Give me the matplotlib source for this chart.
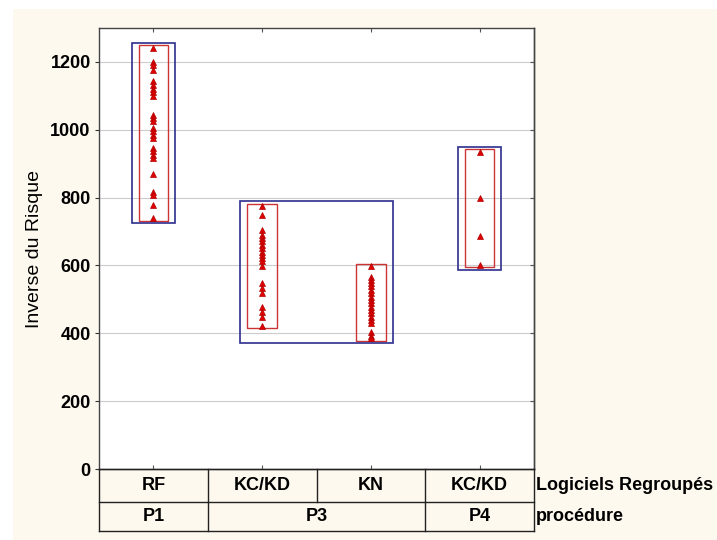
import matplotlib
matplotlib.use("Agg")
import matplotlib.pyplot as plt
from matplotlib.patches import Rectangle

plt.rcParams['font.family'] = ['Liberation Sans', 'DejaVu Sans']

# données
logiciels = ["RF", "KC/KD", "KN", "KC/KD"]
procedures = ["P1", "P3", "P3", "P4"]
rf_p1 = [1241, 1200, 1192, 1177, 1143, 1133, 1120, 1110, 1100, 1044, 1036, 1025,
         1005, 995, 985, 975, 946, 936, 926, 917, 870, 818, 808, 779, 740]
kckd_p3 = [774, 749, 705, 690, 680, 671, 661, 651, 641, 631, 622, 612, 599,
           548, 533, 518, 479, 464, 449, 423]
kn_p3 = [597, 567, 558, 548, 538, 528, 518, 508, 499, 489, 479, 469, 459, 449,
         440, 430, 405, 393, 385]
kckd_p4 = [935, 800, 688, 602]
valeurs = [rf_p1, kckd_p3, kn_p3, kckd_p4]
yticks = [0, 200, 400, 600, 800, 1000, 1200]

W, H = 717, 540
fig = plt.figure(figsize=(W / 100, H / 100), dpi=100)
fig.patch.set_facecolor("white")
fig.patches.append(Rectangle((13 / W, 0), 1, (H - 9) / H, transform=fig.transFigure,
                             facecolor="#fdf9ee", edgecolor="none", zorder=-10))

ax = fig.add_axes([99 / W, (H - 469) / H, 435 / W, 441 / H])
ax.set_facecolor("white")
ax.set_xlim(-0.5, len(logiciels) - 0.5)
ax.set_ylim(0, 1300)
ax.set_yticks(yticks)
ax.set_xticks(range(len(logiciels)))
ax.set_xticklabels([])
for y in yticks[1:]:
    ax.axhline(y, color="#cccccc", lw=0.8, zorder=0)

ax.tick_params(axis="y", direction="out", length=3, labelsize=13, colors="#333333",
               labelcolor="black", right=False, pad=3)
ax.tick_params(axis="x", direction="in", length=3, top=True, bottom=True, colors="#555555")
for lab in ax.get_yticklabels():
    lab.set_fontweight("bold")
ax2 = ax.secondary_yaxis("right")
ax2.set_yticks(yticks)
ax2.tick_params(direction="in", length=3, labelright=False, colors="#555555")
for s in list(ax.spines.values()) + list(ax2.spines.values()):
    s.set_color("#444444")
    s.set_linewidth(1.0)

ax.set_ylabel("Inverse du Risque", fontsize=14)
ax.yaxis.set_label_coords(-0.128, 0.5)

# points et boîtes par logiciel
for i, vals in enumerate(valeurs):
    ax.plot([i] * len(vals), vals, linestyle="none", marker="^", markersize=5,
            markerfacecolor="#e00000", markeredgecolor="#b00000", markeredgewidth=0.5, zorder=4)
    lo, hi = min(vals) - 8, max(vals) + 8
    ax.add_patch(Rectangle((i - 0.135, lo), 0.27, hi - lo, fill=False,
                           edgecolor="#cc3333", lw=1.0, zorder=3))

# boîtes par procédure
groupes = []
for i, p in enumerate(procedures):
    if groupes and groupes[-1][0] == p:
        groupes[-1][2] = i
    else:
        groupes.append([p, i, i])
for p, a, b in groupes:
    vals = [v for k in range(a, b + 1) for v in valeurs[k]]
    lo, hi = min(vals) - 15, max(vals) + 15
    ax.add_patch(Rectangle((a - 0.2, lo), (b - a) + 0.4, hi - lo, fill=False,
                           edgecolor="#2e2e8e", lw=1.2, zorder=3))

# tableau des catégories sous l'axe
tab = fig.add_axes([99 / W, (H - 531) / H, 435 / W, 62 / H])
tab.set_xlim(-0.5, len(logiciels) - 0.5)
tab.set_ylim(0, 62)
tab.axis("off")
tab.patch.set_visible(False)
bord = dict(color="#222222", lw=1.0, clip_on=False)
tab.plot([-0.5, 3.5], [62, 62], **bord)
tab.plot([-0.5, 3.5], [29, 29], **bord)
tab.plot([-0.5, 3.5], [0, 0], **bord)
tab.plot([-0.5, -0.5], [0, 62], **bord)
tab.plot([3.5, 3.5], [0, 62], **bord)
for i, lg in enumerate(logiciels):
    if i > 0:
        tab.plot([i - 0.5, i - 0.5], [29, 62], **bord)
    tab.text(i, 45.5, lg, ha="center", va="center", fontsize=13, fontweight="bold")
for p, a, b in groupes:
    if a > 0:
        tab.plot([a - 0.5, a - 0.5], [0, 29], **bord)
    tab.text((a + b) / 2, 14.5, p, ha="center", va="center", fontsize=13, fontweight="bold")
tab.text(3.52, 45.5, "Logiciels Regroupés", ha="left", va="center", fontsize=13,
         fontweight="bold")
tab.text(3.52, 14.5, "procédure", ha="left", va="center", fontsize=13, fontweight="bold")

fig.savefig("out.png", dpi=100, facecolor=fig.get_facecolor())
